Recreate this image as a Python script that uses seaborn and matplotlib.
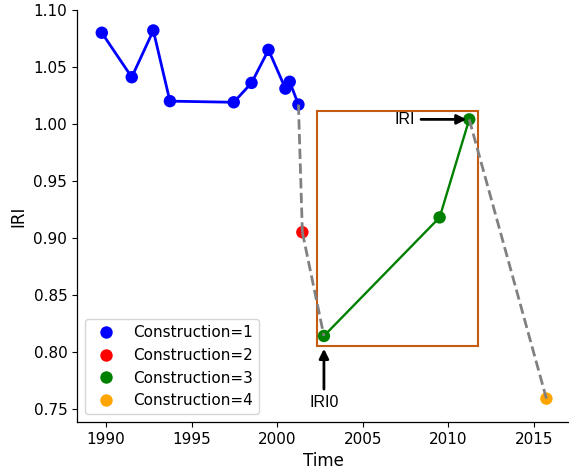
import matplotlib
matplotlib.use("Agg")
import matplotlib.pyplot as plt
import numpy as np
import pandas as pd
import seaborn as sns
from matplotlib.patches import Rectangle

# Survey history of one road section
time = [1989.75, 1991.50, 1992.76, 1993.73, 1997.46, 1998.50, 1999.49,
        2000.48, 2000.73, 2001.24, 2001.47, 2002.73, 2009.49, 2011.22,
        2015.73]
iri = [1.080, 1.041, 1.082, 1.020, 1.019, 1.036, 1.065,
       1.031, 1.037, 1.017, 0.905, 0.814, 0.918, 1.004,
       0.759]
construction = [1, 1, 1, 1, 1, 1, 1, 1, 1, 1, 2, 3, 3, 3, 4]

palette_colors = ["blue", "red", "green", "orange"]
x_ticks = [1990, 1995, 2000, 2005, 2010, 2015]
y_ticks = [0.75, 0.80, 0.85, 0.90, 0.95, 1.00, 1.05, 1.10]

df = pd.DataFrame({"Time": time, "IRI": iri, "Construction": construction})
df["label"] = ["Construction=%d" % c for c in df["Construction"]]
labels_order = ["Construction=%d" % c for c in sorted(df["Construction"].unique())]
palette = dict(zip(labels_order, palette_colors))

sns.set_style("ticks")
plt.rcParams.update({
    "font.family": ["DejaVu Sans"],
    "axes.edgecolor": "black",
    "text.color": "black",
    "axes.labelcolor": "black",
    "xtick.color": "black",
    "ytick.color": "black",
    "xtick.labelsize": 11,
    "ytick.labelsize": 11,
    "axes.labelsize": 12,
    "legend.fontsize": 11,
    "xtick.major.size": 3.5,
    "ytick.major.size": 3.5,
    "axes.linewidth": 0.9,
})

fig, ax = plt.subplots(figsize=(5.69, 4.74), dpi=100)
fig.subplots_adjust(left=0.1353, right=1.0, bottom=0.1097, top=0.979)

# Solid lines within each construction period
line_colors = {1: "blue", 3: "green"}
line_widths = {1: 2.0, 3: 1.7}
for c, grp in df.groupby("Construction"):
    if len(grp) > 1:
        sns.lineplot(data=grp, x="Time", y="IRI", sort=False, ax=ax,
                     color=line_colors.get(c, "gray"),
                     linewidth=line_widths.get(c, 1.7), zorder=2)

# Points coloured by construction period
sns.scatterplot(data=df, x="Time", y="IRI", hue="label",
                hue_order=labels_order, palette=palette, s=80,
                linewidth=0, ax=ax, zorder=3)

# Dashed transitions between construction periods
for i in range(len(df) - 1):
    if df["Construction"][i] != df["Construction"][i + 1]:
        ax.plot(df["Time"][i:i + 2], df["IRI"][i:i + 2], linestyle="--",
                color="gray", linewidth=2, zorder=4)

# Box around the current construction period
cur = df[df["Construction"] == 3]
x0, x1 = cur["Time"].iloc[0], cur["Time"].iloc[-1]
iri0, iri_last = cur["IRI"].iloc[0], cur["IRI"].iloc[-1]
rect_bottom = iri0 - 0.0088
rect_top = iri_last + 0.0077
rect_left = x0 - 0.39
rect_right = x1 + 0.51
ax.add_patch(Rectangle((rect_left, rect_bottom), rect_right - rect_left,
                       rect_top - rect_bottom, fill=False,
                       edgecolor="#c55a11", linewidth=1.5, zorder=1))

arrow = dict(arrowstyle="-|>", color="black", lw=2, mutation_scale=14)
ax.annotate("IRI0", xy=(x0, rect_bottom), xytext=(x0, 0.7555),
            ha="center", va="center", fontsize=11.5,
            family=["Liberation Sans", "DejaVu Sans"], arrowprops=arrow)
ax.annotate("IRI", xy=(x1, iri_last), xytext=(2007.45, iri_last),
            ha="center", va="center", fontsize=11.5,
            family=["Liberation Sans", "DejaVu Sans"], arrowprops=arrow)

ax.set_xlim(1988.3, 2017.05)
ax.set_ylim(0.7385, 1.10)
ax.set_xticks(x_ticks)
ax.set_yticks(y_ticks)
ax.set_yticklabels(["%.2f" % v for v in y_ticks])
ax.set_xlabel("Time")
ax.set_ylabel("IRI")
sns.despine(ax=ax)

handles, labels = ax.get_legend_handles_labels()
ax.legend(handles, labels, loc="lower left")

fig.savefig("out.png", dpi=100)
